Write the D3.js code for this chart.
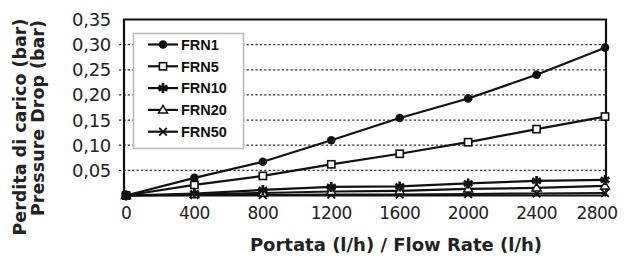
<!DOCTYPE html>
<html><head><meta charset="utf-8">
<script src="https://cdn.jsdelivr.net/npm/d3@7"></script>
<style>body{margin:0;background:#fff}svg{display:block}</style>
</head><body><svg id="c" width="624" height="259"></svg>
<script>
const flow = [0, 400, 800, 1200, 1600, 2000, 2400, 2800];
const xTicks = [0, 400, 800, 1200, 1600, 2000, 2400, 2800];
const yTicks = [0.05, 0.10, 0.15, 0.20, 0.25, 0.30, 0.35];
const seriesNames = ["FRN1", "FRN5", "FRN10", "FRN20", "FRN50"];
const frn1  = [0, 0.035, 0.067, 0.110, 0.154, 0.193, 0.240, 0.294];
const frn5  = [0, 0.021, 0.039, 0.062, 0.083, 0.106, 0.132, 0.157];
const frn10 = [0, 0.004, 0.011, 0.017, 0.018, 0.024, 0.029, 0.031];
const frn20 = [0, 0.002, 0.005, 0.008, 0.009, 0.013, 0.015, 0.019];
const frn50 = [0, 0.001, 0.001, 0.002, 0.002, 0.003, 0.004, 0.005];
const seriesValues = [frn1, frn5, frn10, frn20, frn50];
const markers = ["circle", "square", "star", "triangle", "cross"];

const svg = d3.select("#c");
const L = 124, R = 606, T = 19.5, B = 195.5;
const x = d3.scaleLinear().domain([0, 2800]).range([L + 2, R - 1]);
const y = d3.scaleLinear().domain([0, 0.35]).range([B, T]);

// gridlines
svg.append("g").selectAll("line").data(yTicks.filter(d => d < 0.35)).join("line")
  .attr("x1", L - 5).attr("x2", R).attr("y1", d => y(d)).attr("y2", d => y(d))
  .attr("stroke", "#333").attr("stroke-width", 1.2).attr("stroke-dasharray", "2.2,2.2");

// y axis labels
const fmt = d => d3.format(".2f")(d).replace(".", ",");
svg.append("g").selectAll("text").data(yTicks).join("text")
  .attr("x", 111).attr("y", d => y(d)).attr("dy", "0.36em")
  .attr("text-anchor", "end").attr("font-family", "DejaVu Sans").attr("font-size", 18)
  .attr("letter-spacing", -0.3).attr("fill", "#222").text(fmt);

// x axis labels
svg.append("g").selectAll("text").data(xTicks).join("text")
  .attr("x", d => Math.min(x(d), 597)).attr("y", 219)
  .attr("text-anchor", "middle").attr("font-family", "DejaVu Sans").attr("font-size", 17)
  .attr("letter-spacing", -0.6).attr("fill", "#222").text(d => d);

// frame
svg.append("path")
  .attr("d", `M${L},${B} L${L},${T} L${R},${T} L${R},${B}`)
  .attr("fill", "none").attr("stroke", "#111").attr("stroke-width", 2.2);
svg.append("line").attr("x1", L).attr("x2", R).attr("y1", B).attr("y2", B)
  .attr("stroke", "#111").attr("stroke-width", 2);

// marker drawing
function drawMarker(g, type, cx, cy) {
  if (type === "circle") {
    g.append("circle").attr("cx", cx).attr("cy", cy).attr("r", 4.3).attr("fill", "#111");
  } else if (type === "square") {
    g.append("rect").attr("x", cx - 3.6).attr("y", cy - 3.6).attr("width", 7.2).attr("height", 7.2)
      .attr("fill", "#fff").attr("stroke", "#111").attr("stroke-width", 1.6);
  } else if (type === "star") {
    const p = d3.symbol().type(d3.symbolAsterisk).size(70);
    g.append("path").attr("transform", `translate(${cx},${cy})`).attr("d", p())
      .attr("fill", "none").attr("stroke", "#111").attr("stroke-width", 2.6);
  } else if (type === "triangle") {
    g.append("path").attr("d", `M${cx},${cy - 4.5} L${cx + 4.5},${cy + 3} L${cx - 4.5},${cy + 3} Z`)
      .attr("fill", "#fff").attr("stroke", "#111").attr("stroke-width", 1.5);
  } else {
    const p = d3.symbol().type(d3.symbolTimes).size(40);
    g.append("path").attr("transform", `translate(${cx},${cy})`).attr("d", p())
      .attr("fill", "none").attr("stroke", "#111").attr("stroke-width", 1.8);
  }
}

const line = d3.line().x((d, i) => x(flow[i])).y(d => y(d));
const drawOrder = [4, 3, 2, 1, 0];
drawOrder.forEach(si => {
  const g = svg.append("g");
  g.append("path").attr("d", line(seriesValues[si])).attr("fill", "none")
    .attr("stroke", "#111").attr("stroke-width", 2.2);
  seriesValues[si].forEach((v, i) => drawMarker(g, markers[si], x(flow[i]), y(v)));
});

// legend
const lg = svg.append("g");
lg.append("rect").attr("x", 133.5).attr("y", 33.5).attr("width", 110).attr("height", 115)
  .attr("fill", "#fff").attr("stroke", "#bbb").attr("stroke-width", 1.6);
seriesNames.forEach((n, i) => {
  const yy = 44.5 + i * 21.8;
  lg.append("line").attr("x1", 148).attr("x2", 178).attr("y1", yy).attr("y2", yy)
    .attr("stroke", "#111").attr("stroke-width", 2.2);
  drawMarker(lg, markers[i], 163, yy);
  lg.append("text").attr("x", 181).attr("y", yy).attr("dy", "0.36em")
    .attr("font-family", "Liberation Sans").attr("font-weight", "bold").attr("font-size", 14.5)
    .attr("fill", "#111").text(n);
});

// axis titles
svg.append("text").attr("x", 396).attr("y", 251).attr("text-anchor", "middle")
  .attr("font-family", "DejaVu Sans").attr("font-weight", "bold").attr("font-size", 18)
  .attr("fill", "#222").text("Portata (l/h) / Flow Rate (l/h)");
svg.append("text").attr("transform", "translate(26,127) rotate(-90)").attr("text-anchor", "middle")
  .attr("font-family", "DejaVu Sans").attr("font-weight", "bold").attr("font-size", 17.5)
  .attr("fill", "#222").text("Perdita di carico (bar)");
svg.append("text").attr("transform", "translate(44,118) rotate(-90)").attr("text-anchor", "middle")
  .attr("font-family", "DejaVu Sans").attr("font-weight", "bold").attr("font-size", 17.5)
  .attr("fill", "#222").text("Pressure Drop (bar)");
</script></body></html>
